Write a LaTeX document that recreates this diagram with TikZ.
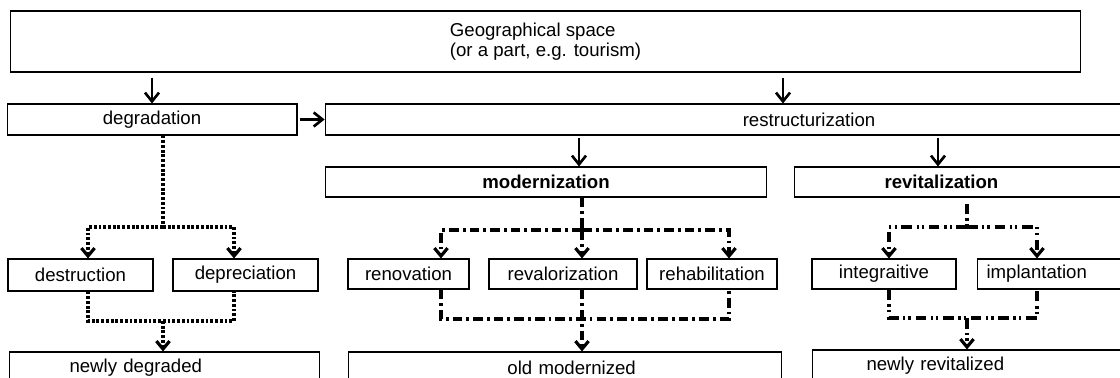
\documentclass[tikz,border=0pt]{standalone}
\usepackage{fontspec}
\setmainfont{Liberation Sans}
\usetikzlibrary{arrows.meta}

\begin{document}
\begin{tikzpicture}[x=0.02cm, y=-0.02cm,
	box/.style={draw, line width=0.6pt, inner sep=0pt, font=\fontsize{10.6}{11.5}\selectfont},
	arr/.style={line width=1.5pt, -{Straight Barb[length=5pt, width=8pt]}},
	tip/.style={-{Straight Barb[length=4.5pt, width=7.5pt]}},
	dotline/.style={line width=1.8pt, dash pattern=on 1.6pt off 1.1pt},
	dashdot/.style={line width=1.8pt, dash pattern=on 5.5pt off 2.3pt on 1.6pt off 2.3pt},
	dashdotdot/.style={line width=1.8pt, dash pattern=on 6pt off 2.5pt on 1.3pt off 1.8pt on 1.3pt off 2.8pt}]
		
		\useasboundingbox (0,0) rectangle (1120,378);
		\clip (0,0) rectangle (1120,378);
		
		% Top box
		\node[box, minimum width=21.42cm, minimum height=1.22cm, align=left] (geo) at (545.5,41.5) {Geographical space\\(or a part, e.g. tourism)};
		
		% First level
		\node[box, minimum width=5.8cm, minimum height=0.62cm] (degr) at (152,119.5) {degradation};
		\node[box, minimum width=19.36cm, minimum height=0.62cm] (restr) at (809,119.5) {restructurization};
		
		% Second level (runs past the right edge)
		\node[box, minimum width=8.84cm, minimum height=0.6cm] (modern) at (546,182) {\textbf{modernization}};
		\node[box, anchor=west, text width=6.72cm, minimum height=0.6cm, align=left] (revit) at (794,182) {\noindent\hspace*{1.8cm}\textbf{revitalization}};
		
		% Third level
		\node[box, minimum width=2.9cm, minimum height=0.64cm] (destr) at (80.5,275) {destruction};
		\node[box, minimum width=2.9cm, minimum height=0.64cm] (depr) at (245.5,275) {depreciation};
		\node[box, minimum width=2.42cm, minimum height=0.6cm] (renov) at (408.5,274) {renovation};
		\node[box, minimum width=2.96cm, minimum height=0.6cm] (reval) at (563,274) {revalorization};
		\node[box, minimum width=2.6cm, minimum height=0.6cm] (rehab) at (712,274) {rehabilitation};
		\node[box, minimum width=2.88cm, minimum height=0.6cm] (integ) at (884,274) {integraitive};
		\node[box, anchor=west, text width=3.2cm, minimum height=0.6cm, align=left] (impl) at (977,274) {\noindent\hspace*{0.18cm}implantation};
		
		% Results (cut by the lower edge)
		\node[box, anchor=west, text width=6.2cm, minimum height=0.62cm, align=left] (ndeg) at (9,367.5) {\noindent\hspace*{1.2cm}newly degraded};
		\node[box, anchor=west, text width=8.66cm, minimum height=0.62cm, align=left] (oldm) at (348,367.5) {\noindent\hspace*{3.18cm}old modernized};
		\node[box, anchor=west, text width=6.6cm, minimum height=0.62cm, align=left] (nrev) at (812,365.5) {\noindent\hspace*{1.08cm}newly revitalized};
		
		% Solid arrows
		\draw[arr, shorten <=0.1cm] (geo.south -| degr.north) -- (degr.north);
		\draw[arr, shorten <=0.1cm] ([xshift=-0.52cm]restr.north |- geo.south) -- ([xshift=-0.52cm]restr.north);
		\draw[arr, shorten <=0.06cm] (degr.east) -- (degr.east -| restr.west);
		\draw[arr, shorten <=0.04cm] ([xshift=0.66cm]modern.north |- restr.south) -- ([xshift=0.66cm]modern.north);
		\draw[arr, shorten <=0.04cm] ([xshift=2.88cm]revit.north west |- restr.south) -- ([xshift=2.88cm]revit.north west);
		
		% Degradation branch
		\coordinate (dtop) at (163,227);
		\coordinate (dbot) at (163,321);
		\draw[dotline] (degr.south -| dtop) -- (dtop);
		\draw[dotline, tip] (dtop) -| ([xshift=0.15cm]destr.north);
		\draw[dotline, tip] (dtop) -| ([xshift=-0.23cm]depr.north);
		\draw[dotline] ([xshift=0.15cm]destr.south) |- (dbot) -| ([xshift=-0.23cm]depr.south);
		\draw[dotline, tip] (dbot) -- (ndeg.north -| dbot);
		
		% Modernization branch
		\coordinate (mtop) at (582,230);
		\coordinate (mbot) at (582,319);
		\draw[dashdot] (modern.south -| mtop) -- (mtop);
		\draw[dashdot, tip] (mtop) -| ([xshift=0.65cm]renov.north);
		\draw[dashdot, tip] (mtop) -- (reval.north -| mtop);
		\draw[dashdot, tip] (mtop) -| ([xshift=0.34cm]rehab.north);
		\draw[dashdot] ([xshift=0.65cm]renov.south) |- (mbot) -| ([xshift=0.34cm]rehab.south);
		\draw[dashdot, tip] (reval.south -| mtop) -- (oldm.north -| mtop);
		
		% Revitalization branch
		\coordinate (vtop) at (967,227);
		\coordinate (vbot) at (967,318);
		\draw[dashdotdot, shorten <=0.12cm] (revit.south -| vtop) -- (vtop);
		\draw[dashdotdot, tip] (vtop) -| ([xshift=0.1cm]integ.north);
		\draw[dashdotdot, tip] (vtop) -| ([xshift=1.2cm]impl.north west);
		\draw[dashdotdot] ([xshift=0.1cm]integ.south) |- (vbot) -| ([xshift=1.2cm]impl.south west);
		\draw[dashdotdot, tip] (vbot) -- (nrev.north -| vbot);
		
	\end{tikzpicture}
\end{document}
